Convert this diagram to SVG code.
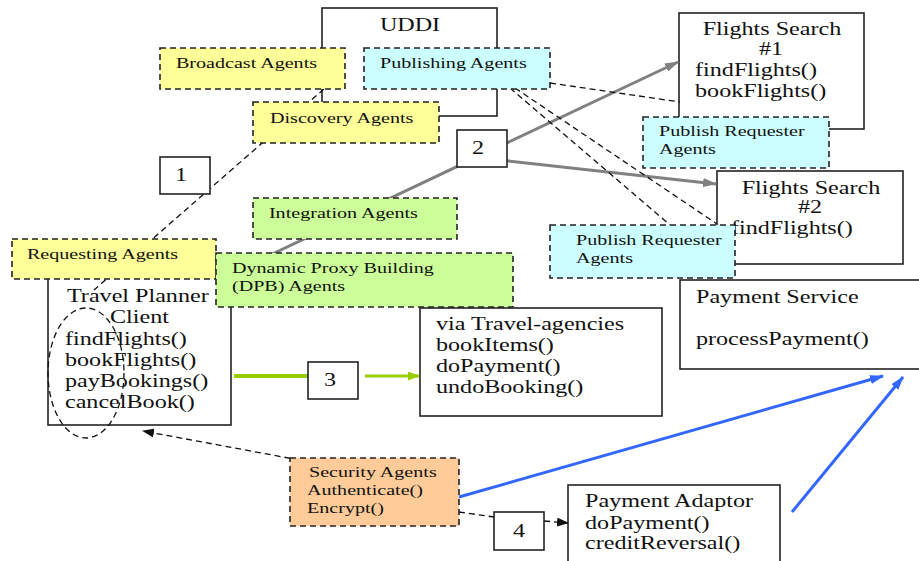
<svg xmlns="http://www.w3.org/2000/svg" width="919" height="561" viewBox="0 0 919 561">
<style>
.box{fill:#fff;stroke:#222;stroke-width:1.6}
.ag{stroke:#222;stroke-width:1.6;stroke-dasharray:6 4}
.y{fill:#ffff99}.c{fill:#ccffff}.g{fill:#ccff99}.o{fill:#ffcc99}
.L{font-family:"Liberation Serif","Times New Roman",serif;font-size:18px;fill:#111}
.S{font-family:"Liberation Serif","Times New Roman",serif;font-size:15px;fill:#111}
.m{text-anchor:middle}
.dash{fill:none;stroke:#111;stroke-width:1.3;stroke-dasharray:6 4}
.gray{fill:none;stroke:#808080;stroke-width:3}
.blue{fill:none;stroke:#3366ff;stroke-width:3}
.grn{fill:none;stroke:#99cc00}
</style>
<defs>
<marker id="aG" markerUnits="userSpaceOnUse" markerWidth="14" markerHeight="9" refX="13" refY="4.5" orient="auto"><path d="M0,0 L14,4.5 L0,9 z" fill="#808080"/></marker>
<marker id="aB" markerUnits="userSpaceOnUse" markerWidth="14" markerHeight="9" refX="13" refY="4.5" orient="auto"><path d="M0,0 L14,4.5 L0,9 z" fill="#3366ff"/></marker>
<marker id="aN" markerUnits="userSpaceOnUse" markerWidth="12" markerHeight="9" refX="11" refY="4.5" orient="auto"><path d="M0,0 L12,4.5 L0,9 z" fill="#99cc00"/></marker>
<marker id="aK" markerUnits="userSpaceOnUse" markerWidth="12" markerHeight="9" refX="11" refY="4.5" orient="auto"><path d="M0,0 L12,4.5 L0,9 z" fill="#111"/></marker>
</defs>

<g id="uddi"><rect class="box" x="322" y="8" width="175" height="108"/><text class="L m" transform="scale(1.34 1)" x="306" y="31">UDDI</text></g>
<g id="travel-planner"><rect class="box" x="48" y="272" width="183" height="153"/>
<text class="L" transform="scale(1.34 1)"><tspan x="50" y="302">Travel Planner</tspan><tspan x="82.1" y="323">Client</tspan><tspan x="48.5" y="345">findFlights()</tspan><tspan x="48.5" y="366">bookFlights()</tspan><tspan x="48.5" y="387">payBookings()</tspan><tspan x="48.5" y="408">cancelBook()</tspan></text></g>
<g id="ellipse"><ellipse cx="86" cy="373" rx="38" ry="65" class="dash"/></g>
<g id="flights1"><rect class="box" x="679" y="13" width="185" height="116"/>
<text class="L" transform="scale(1.34 1)"><tspan class="m" x="576.1" y="35">Flights Search</tspan><tspan class="m" x="575.4" y="55">#1</tspan><tspan x="518.7" y="76">findFlights()</tspan><tspan x="518.7" y="97">bookFlights()</tspan></text></g>
<g id="flights2"><rect class="box" x="717" y="171" width="186" height="93"/>
<text class="L" transform="scale(1.34 1)"><tspan class="m" x="605.2" y="194">Flights Search</tspan><tspan class="m" x="604.5" y="213">#2</tspan><tspan x="545.5" y="234">findFlights()</tspan></text></g>
<g id="payment-service"><rect class="box" x="680" y="280" width="250" height="89"/>
<text class="L" transform="scale(1.34 1)"><tspan x="519.4" y="303">Payment Service</tspan><tspan x="519.4" y="345">processPayment()</tspan></text></g>
<g id="via-travel"><rect class="box" x="420" y="308" width="242" height="108"/>
<text class="L" transform="scale(1.34 1)"><tspan x="325.4" y="330">via Travel-agencies</tspan><tspan x="325.4" y="351">bookItems()</tspan><tspan x="325.4" y="372">doPayment()</tspan><tspan x="325.4" y="393">undoBooking()</tspan></text></g>
<g id="payment-adaptor"><rect class="box" x="568" y="485" width="212" height="90"/>
<text class="L" transform="scale(1.34 1)"><tspan x="436.6" y="507">Payment Adaptor</tspan><tspan x="436.6" y="529">doPayment()</tspan><tspan x="436.6" y="549">creditReversal()</tspan></text></g>

<g id="connectors">
<line class="dash" x1="324" y1="89" x2="94" y2="290"/>
<line class="gray" x1="268" y1="256" x2="678" y2="62" marker-end="url(#aG)"/>
<line class="gray" x1="500" y1="160" x2="716" y2="184" marker-end="url(#aG)"/>
<line class="dash" x1="550" y1="83" x2="680" y2="102"/>
<line class="dash" x1="510" y1="88" x2="670" y2="225"/>
<line class="dash" x1="515" y1="88" x2="717" y2="224"/>
<line class="grn" stroke-width="4" x1="234" y1="376" x2="308" y2="376"/>
<line class="grn" stroke-width="2.8" x1="365" y1="376" x2="419" y2="376" marker-end="url(#aN)"/>
<line class="dash" x1="310" y1="462" x2="143" y2="431" marker-end="url(#aK)"/>
<line class="dash" x1="459" y1="512" x2="494" y2="517"/>
<line class="dash" x1="544" y1="521" x2="568" y2="523" marker-end="url(#aK)"/>
<line class="blue" x1="459" y1="497" x2="883" y2="376" marker-end="url(#aB)"/>
<line class="blue" x1="792" y1="512" x2="903" y2="377" marker-end="url(#aB)"/>
</g>

<g id="broadcast"><rect class="ag y" x="160" y="48" width="185" height="41"/><text class="S" transform="scale(1.34 1)" x="131.3" y="68">Broadcast Agents</text></g>
<g id="publishing"><rect class="ag c" x="364" y="48" width="186" height="41"/><text class="S" transform="scale(1.34 1)" x="283.6" y="68">Publishing Agents</text></g>
<g id="discovery"><rect class="ag y" x="253" y="102" width="186" height="41"/><text class="S" transform="scale(1.34 1)" x="201.5" y="123">Discovery Agents</text></g>
<g id="step1"><rect class="box" x="160" y="157" width="50" height="37"/><text class="L m" transform="scale(1.34 1)" x="135.1" y="181">1</text></g>
<g id="step2"><rect class="box" x="457" y="130" width="50" height="37"/><text class="L m" transform="scale(1.34 1)" x="356.7" y="154">2</text></g>
<g id="pub-req1"><rect class="ag c" x="643" y="117" width="186" height="51"/><text class="S" transform="scale(1.34 1)"><tspan x="491.8" y="136">Publish Requester</tspan><tspan x="491.8" y="154">Agents</tspan></text></g>
<g id="pub-req2"><rect class="ag c" x="550" y="225" width="185" height="53"/><text class="S" transform="scale(1.34 1)"><tspan x="429.9" y="245">Publish Requester</tspan><tspan x="429.9" y="263">Agents</tspan></text></g>
<g id="integration"><rect class="ag g" x="253" y="198" width="204" height="41"/><text class="S" transform="scale(1.34 1)" x="200.7" y="218">Integration Agents</text></g>
<g id="requesting"><rect class="ag y" x="12" y="239" width="204" height="40"/><text class="S" transform="scale(1.34 1)" x="20.1" y="259">Requesting Agents</text></g>
<g id="dpb"><rect class="ag g" x="216" y="253" width="297" height="54"/><text class="S" transform="scale(1.34 1)"><tspan x="173.1" y="273">Dynamic Proxy Building</tspan><tspan x="173.1" y="291">(DPB) Agents</tspan></text></g>
<g id="step3"><rect class="box" x="308" y="362" width="50" height="37"/><text class="L m" transform="scale(1.34 1)" x="246.3" y="386">3</text></g>
<g id="security"><rect class="ag o" x="290" y="458" width="169" height="68"/><text class="S" transform="scale(1.34 1)"><tspan x="230.6" y="477">Security Agents</tspan><tspan x="229.1" y="495">Authenticate()</tspan><tspan x="229.1" y="513">Encrypt()</tspan></text></g>
<g id="step4"><rect class="box" x="494" y="512" width="50" height="38"/><text class="L m" transform="scale(1.34 1)" x="387.3" y="537">4</text></g>
</svg>
